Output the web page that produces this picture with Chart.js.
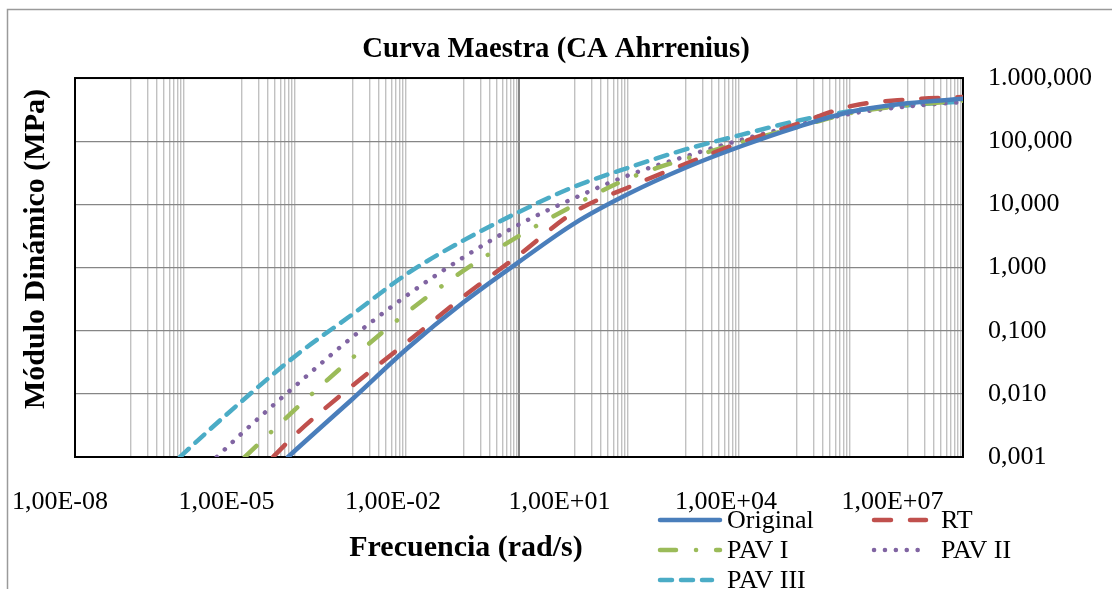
<!DOCTYPE html>
<html lang="es">
<head>
<meta charset="UTF-8" />
<title>Curva Maestra</title>
<script src="https://cdn.jsdelivr.net/npm/chart.js@4.4.1/dist/chart.umd.min.js"></script>
<style>
  body { margin: 0; background: #fff; }
  canvas { display: block; }
</style>
</head>
<body>
<canvas id="curva" width="1112" height="589"></canvas>
<script>
  // frecuencia (rad/s) y módulo dinámico (MPa)
  const freqOriginal = [6.9e-5, 1e-4, 1e-3, 1e-2, 1e-1, 1, 1e1, 1e2, 1e3, 1e4, 1e5, 1e6, 1e7, 1e8];
  const modOriginal = [0.001, 0.00135, 0.0083, 0.0537, 0.282, 1.23, 5.01, 15.1, 38.0, 83.2, 166, 295, 398, 468];

  const freqRT = [3.7e-5, 1e-4, 1e-3, 1e-2, 1e-1, 1, 1e1, 1e2, 1e3, 1e4, 1e5, 1e6, 1e7, 1e8];
  const modRT = [0.001, 0.0024, 0.0135, 0.0676, 0.347, 1.58, 7.59, 19.1, 43.7, 95.5, 186, 363, 457, 501];

  const freqPAV1 = [1.15e-5, 1e-4, 1e-3, 1e-2, 1e-1, 1, 1e1, 1e2, 1e3, 1e4, 1e5, 1e6, 1e7, 1e8];
  const modPAV1 = [0.001, 0.00603, 0.0372, 0.2, 0.891, 3.16, 9.77, 26.3, 52.5, 95.5, 166, 282, 372, 437];

  const freqPAV2 = [3.6e-6, 1e-5, 1e-4, 1e-3, 1e-2, 1e-1, 1, 1e1, 1e2, 1e3, 1e4, 1e5, 1e6, 1e7, 1e8];
  const modPAV2 = [0.001, 0.00234, 0.0141, 0.0794, 0.372, 1.45, 4.79, 12.6, 29.5, 57.5, 105, 178, 275, 355, 417];

  const freqPAV3 = [7.8e-7, 1e-6, 1e-5, 1e-4, 1e-3, 1e-2, 1e-1, 1, 1e1, 1e2, 1e3, 1e4, 1e5, 1e6, 1e7, 1e8];
  const modPAV3 = [0.001, 0.00123, 0.00759, 0.0417, 0.182, 0.813, 2.69, 7.59, 19.1, 38.9, 74.1, 126, 209, 302, 372, 427];

  const xTickVals = [1e-8, 1e-5, 1e-2, 1e1, 1e4, 1e7];
  const xTickLabels = ["1,00E-08", "1,00E-05", "1,00E-02", "1,00E+01", "1,00E+04", "1,00E+07"];
  const yTickVals = [0.001, 0.01, 0.1, 1, 10, 100, 1000];
  const yTickLabels = ["0,001", "0,010", "0,100", "1,000", "10,000", "100,000", "1.000,000"];

  const FONT = "'Liberation Serif', 'Times New Roman', serif";
  Chart.defaults.font.family = FONT;
  Chart.defaults.color = "#000";

  // lineas de division secundarias (solo en decadas impares, como en Excel)
  const xGrid = [1];
  [-7, -5, -3, -1, 1, 3, 5, 7].forEach((p) => {
    for (let k = 1; k <= 9; k++) xGrid.push(k * Math.pow(10, p));
  });
  const key = (v) => Math.round(Math.log10(v) * 1e5);
  const gridKeys = new Set(xGrid.map(key));
  const xAll = xGrid.concat(xTickVals.filter((v) => !gridKeys.has(key(v)))).sort((a, b) => a - b);

  function pts(fs, ms) {
    return fs.map((f, i) => ({ x: f, y: ms[i] }));
  }

  function serie(label, fs, ms, color, dash) {
    return {
      label: label,
      data: pts(fs, ms),
      xAxisID: "x",
      yAxisID: "y",
      borderColor: color,
      borderWidth: 4.5,
      borderDash: dash,
      borderCapStyle: "round",
      borderJoinStyle: "round",
      pointRadius: 0,
      cubicInterpolationMode: "monotone",
      fill: false,
    };
  }

  const legendPos = [
    { x0: 658, x1: 722, y: 520, tx: 727 },
    { x0: 872, x1: 928, y: 520, tx: 941 },
    { x0: 658, x1: 722, y: 550, tx: 727 },
    { x0: 872, x1: 928, y: 550, tx: 941 },
    { x0: 658, x1: 714, y: 580, tx: 727 },
  ];

  const decor = {
    id: "decor",
    beforeDraw(chart) {
      const ctx = chart.ctx;
      ctx.save();
      ctx.fillStyle = "#fff";
      ctx.fillRect(0, 0, chart.width, chart.height);
      ctx.strokeStyle = "#9a9a9a";
      ctx.lineWidth = 1.5;
      ctx.beginPath();
      ctx.moveTo(7.5, chart.height);
      ctx.lineTo(7.5, 9.5);
      ctx.lineTo(chart.width, 9.5);
      ctx.stroke();
      ctx.restore();
    },
    beforeDatasetsDraw(chart) {
      const a = chart.chartArea;
      const ctx = chart.ctx;
      ctx.save();
      ctx.strokeStyle = "#000";
      ctx.lineWidth = 2;
      ctx.strokeRect(a.left, a.top, a.right - a.left, a.bottom - a.top);
      ctx.restore();
    },
    afterDraw(chart) {
      const ctx = chart.ctx;
      ctx.save();
      // titulos de ejes
      ctx.fillStyle = "#000";
      ctx.font = "bold 30px " + FONT;
      ctx.textAlign = "center";
      ctx.textBaseline = "middle";
      ctx.fillText("Frecuencia (rad/s)", 466, 548);
      ctx.save();
      ctx.translate(36, 249);
      ctx.rotate(-Math.PI / 2);
      ctx.fillText("Módulo Dinámico (MPa)", 0, 0);
      ctx.restore();
      // leyenda
      ctx.font = "26px " + FONT;
      ctx.textAlign = "left";
      chart.data.datasets.forEach((ds, i) => {
        const p = legendPos[i];
        ctx.strokeStyle = ds.borderColor;
        ctx.lineWidth = ds.borderWidth;
        ctx.lineCap = "round";
        ctx.setLineDash(ds.borderDash || []);
        ctx.beginPath();
        ctx.moveTo(p.x0 + 2, p.y);
        ctx.lineTo(p.x1 - 2, p.y);
        ctx.stroke();
        ctx.setLineDash([]);
        ctx.fillText(ds.label, p.tx, p.y + 1);
      });
      ctx.restore();
    },
  };

  new Chart("curva", {
    type: "line",
    data: {
      datasets: [
        serie("Original", freqOriginal, modOriginal, "#4a7ebb", []),
        serie("RT", freqRT, modRT, "#c0504d", [17, 19]),
        serie("PAV I", freqPAV1, modPAV1, "#9bbb59", [16, 20, 0.1, 20]),
        serie("PAV II", freqPAV2, modPAV2, "#8064a2", [0.1, 10.8]),
        serie("PAV III", freqPAV3, modPAV3, "#4bacc6", [12, 9]),
      ],
    },
    options: {
      responsive: false,
      animation: false,
      devicePixelRatio: 1,
      layout: { padding: 0 },
      plugins: {
        legend: { display: false },
        tooltip: { enabled: false },
        title: {
          display: true,
          text: "Curva Maestra (CA Ahrrenius)",
          font: { size: 28.7, weight: "bold" },
          color: "#000",
          padding: { top: 32, bottom: 11.6 },
        },
      },
      scales: {
        x: {
          type: "logarithmic",
          position: "bottom",
          min: 1e-8,
          max: 1e8,
          afterBuildTicks: (s) => {
            s.ticks = xAll.map((v) => ({ value: v }));
          },
          afterFit: (s) => {
            s.height = 132;
            s.paddingLeft = 0;
            s.paddingRight = 0;
          },
          border: { display: false },
          grid: {
            drawTicks: false,
            color: (c) => {
              const v = c.tick ? c.tick.value : 1e-8;
              if (!gridKeys.has(key(v))) return "rgba(0,0,0,0)";
              if (key(v) === 0) return "#868686";
              return "#c1c1c1";
            },
            lineWidth: (c) => (c.tick && key(c.tick.value) === 0 ? 2 : 1.4),
          },
          ticks: {
            autoSkip: false,
            maxRotation: 0,
            padding: 30,
            labelOffset: -15,
            font: { size: 26 },
            callback: (v) => {
              const i = xTickVals.findIndex((t) => key(t) === key(v));
              return i >= 0 ? xTickLabels[i] : "";
            },
          },
        },
        // eje izquierdo vacio: solo reserva el margen del titulo vertical
        yl: {
          type: "linear",
          position: "left",
          display: true,
          afterFit: (s) => {
            s.width = 75;
          },
          border: { display: false },
          grid: { display: false },
          ticks: { display: false },
        },
        y: {
          type: "logarithmic",
          position: "right",
          min: 0.001,
          max: 1000,
          afterBuildTicks: (s) => {
            s.ticks = yTickVals.map((v) => ({ value: v }));
          },
          afterFit: (s) => {
            s.width = 149;
          },
          border: { display: false },
          grid: { drawTicks: false, color: "#868686", lineWidth: 1.3 },
          ticks: {
            padding: 25,
            font: { size: 26 },
            callback: (v) => {
              const i = yTickVals.findIndex((t) => key(t) === key(v));
              return i >= 0 ? yTickLabels[i] : "";
            },
          },
        },
      },
    },
    plugins: [decor],
  });
</script>
</body>
</html>
